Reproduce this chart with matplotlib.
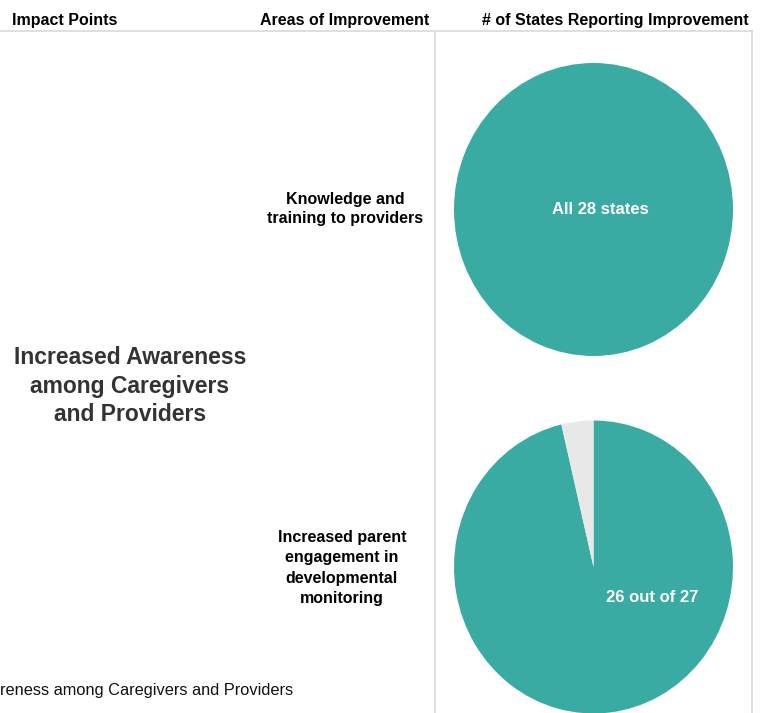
import matplotlib
matplotlib.use("Agg")
import matplotlib.pyplot as plt

plt.rcParams['font.family'] = ['Liberation Sans', 'DejaVu Sans']

# ---- data ----
impact_point = "Increased Awareness\namong Caregivers\nand Providers"
footer_label = "reness among Caregivers and Providers"  # visible part of the clipped row label
headers = ["Impact Points", "Areas of Improvement", "# of States Reporting Improvement"]
areas = ["Knowledge and\ntraining to providers",
         "Increased parent\nengagement in\ndevelopmental\nmonitoring"]
states_improved = [28, 26]
states_total = [28, 27]
pie_labels = ["All 28 states", "26 out of 27"]

TEAL = "#3aaba3"
GRAY = "#e8e8e8"
LINE = "#d9d9d9"

W, H = 765, 713
fig = plt.figure(figsize=(W / 100, H / 100), dpi=100)
ax = fig.add_axes([0, 0, 1, 1])

def Y(y):
    return H - y

# pies (each in its own axes box, slightly elliptical like the reference)
centers = [(593.5, 209.5), (593.5, 567)]
rx, ry = 139.5, 146.5
label_off = [(7, 0), (59, 31)]
for (cx, cy), imp, tot, lab, (dx, dy) in zip(centers, states_improved, states_total, pie_labels, label_off):
    pax = fig.add_axes([(cx - rx) / W, (H - cy - ry) / H, 2 * rx / W, 2 * ry / H])
    vals = [imp, tot - imp]
    pax.pie(vals, colors=[TEAL, GRAY], startangle=90, counterclock=False,
            radius=1, wedgeprops=dict(linewidth=0))
    pax.set_xlim(-1, 1)
    pax.set_ylim(-1, 1)
    pax.set_aspect("auto")
    pax.axis("off")
    pax.text(dx / rx, -dy / ry, lab, color="white", fontsize=12, fontweight="bold",
             ha="center", va="center")

# grid lines
ax.plot([0, 752], [Y(31), Y(31)], color=LINE, lw=1.2)
ax.plot([435, 435], [Y(31), 0], color=LINE, lw=1.2)
ax.plot([752, 752], [Y(31), 0], color=LINE, lw=1.2)

# headers
ax.text(12, Y(20), headers[0], fontsize=11.5, fontweight="bold", ha="left", va="center")
ax.text(345, Y(20), headers[1], fontsize=11.5, fontweight="bold", ha="center", va="center")
ax.text(615, Y(20), headers[2], fontsize=11.5, fontweight="bold", ha="center", va="center")

# row labels
ax.text(130, Y(386), impact_point, fontsize=16.5, fontweight="bold", color="#333333",
        ha="center", va="center", linespacing=1.32)
ax.text(345, Y(209), areas[0], fontsize=11.5, fontweight="bold",
        ha="center", va="center", linespacing=1.33)
ax.text(342, Y(568), areas[1], fontsize=11.5, fontweight="bold",
        ha="center", va="center", linespacing=1.42)

# footer (row label clipped at the left edge in the reference)
ax.text(0, Y(690), footer_label, fontsize=11.8, ha="left", va="center", color="#111111")

ax.set_xlim(0, W)
ax.set_ylim(0, H)
ax.axis("off")

fig.savefig("out.png", dpi=100)
